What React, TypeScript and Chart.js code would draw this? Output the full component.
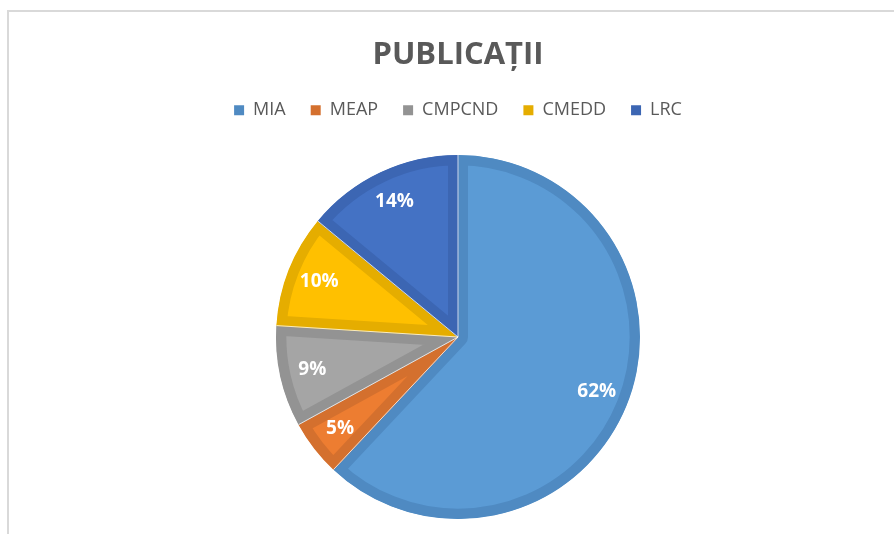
import React, { useEffect, useRef } from "react";
import { Chart, registerables } from "chart.js";

Chart.register(...registerables);

const TITLE = "PUBLICAȚII";
const categories = ["MIA", "MEAP", "CMPCND", "CMEDD", "LRC"];
const values = [62, 5, 9, 10, 14];
const fillColors = ["#5B9BD5", "#ED7D31", "#A5A5A5", "#FFC000", "#4472C4"];
const edgeColors = ["#4F8AC2", "#D4702E", "#939393", "#E5AD00", "#3C66B3"];

const FONT = "'Open Sans', 'Noto Sans', sans-serif";

const separatorPlugin = {
  id: "separators",
  afterDatasetsDraw(chart: any) {
    const meta = chart.getDatasetMeta(0);
    const ctx = chart.ctx;
    ctx.save();
    ctx.strokeStyle = "rgba(255,255,255,0.75)";
    ctx.lineWidth = 1;
    meta.data.forEach((arc: any) => {
      const { x, y, startAngle, outerRadius } = arc.getProps(["x", "y", "startAngle", "outerRadius"], true);
      ctx.beginPath();
      ctx.moveTo(x, y);
      ctx.lineTo(x + Math.cos(startAngle) * outerRadius, y + Math.sin(startAngle) * outerRadius);
      ctx.stroke();
    });
    ctx.restore();
  },
};

const labelPlugin = {
  id: "pctLabels",
  afterDatasetsDraw(chart: any) {
    const meta = chart.getDatasetMeta(0);
    const data = chart.data.datasets[0].data as number[];
    const total = data.reduce((a, b) => a + b, 0);
    const ctx = chart.ctx;
    ctx.save();
    ctx.fillStyle = "#FFFFFF";
    ctx.font = `bold 19px ${FONT}`;
    ctx.textAlign = "center";
    ctx.textBaseline = "middle";
    meta.data.forEach((arc: any, i: number) => {
      const { x, y, startAngle, endAngle, outerRadius } = arc.getProps(
        ["x", "y", "startAngle", "endAngle", "outerRadius"],
        true
      );
      const mid = (startAngle + endAngle) / 2;
      const r = outerRadius * 0.82;
      const txt = Math.round((data[i] / total) * 100) + "%";
      ctx.fillText(txt, x + Math.cos(mid) * r, y + Math.sin(mid) * r);
    });
    ctx.restore();
  },
};

export default function App() {
  const ref = useRef<HTMLCanvasElement | null>(null);

  useEffect(() => {
    if (!ref.current) return;
    const chart = new Chart(ref.current, {
      type: "pie",
      data: {
        labels: categories,
        datasets: [
          {
            data: values,
            backgroundColor: fillColors,
            borderColor: edgeColors,
            borderWidth: 10,
            borderAlign: "inner",
          } as any,
        ],
      },
      options: {
        responsive: false,
        animation: false,
        layout: { padding: { left: 22, right: 0, top: 0, bottom: 15 } },
        plugins: {
          tooltip: { enabled: false },
          title: {
            display: true,
            text: TITLE,
            color: "#595959",
            font: { family: FONT, size: 31, weight: "bold" },
            padding: { top: 37, bottom: 2 },
          },
          subtitle: {
            display: true,
            text: "",
            weight: 500,
            font: { size: 1 },
            padding: { top: 0, bottom: 24.6 },
          } as any,
          legend: {
            display: true,
            position: "top",
            labels: {
              color: "#595959",
              font: { family: FONT, size: 18 },
              boxWidth: 10,
              boxHeight: 10,
              padding: 25,
              generateLabels(chart: any) {
                return categories.map((c, i) => ({
                  text: c,
                  fillStyle: edgeColors[i],
                  strokeStyle: edgeColors[i],
                  lineWidth: 0,
                  fontColor: "#595959",
                  hidden: false,
                  index: i,
                }));
              },
            },
          },
        },
      },
      plugins: [separatorPlugin, labelPlugin],
    });
    return () => chart.destroy();
  }, []);

  return (
    <div>
      <div
        style={{
          position: "fixed",
          left: 7,
          top: 10,
          width: 1000,
          height: 1000,
          border: "2px solid #D9D9D9",
          background: "#fff",
        }}
      />
      <canvas
        ref={ref}
        width={894}
        height={534}
        style={{ position: "fixed", left: 0, top: 0, width: 894, height: 534 }}
      />
    </div>
  );
}
